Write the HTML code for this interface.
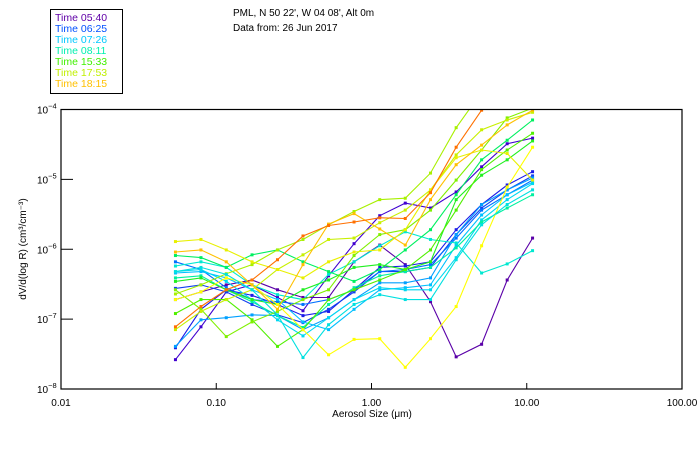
<!DOCTYPE html>
<html><head><meta charset="utf-8"><style>
html,body{margin:0;padding:0;background:#fff;}
svg{display:block;font-family:"Liberation Sans",sans-serif;}
</style></head><body>
<svg id="chart" width="700" height="450" viewBox="0 0 700 450" xmlns="http://www.w3.org/2000/svg">
<rect x="0" y="0" width="700" height="450" fill="#fff"/>
<g>
<rect x="50.5" y="9.5" width="72" height="84" fill="none" stroke="#000" stroke-width="1"/>
<g id="legendItems" font-size="10.5"></g>
</g>
<text x="233" y="16" font-size="10">PML, N 50 22', W 04 08', Alt 0m</text>
<text x="233" y="31" font-size="10">Data from: 26 Jun 2017</text>
<defs><clipPath id="plotClip"><rect x="61" y="109.5" width="621" height="279.5"/></clipPath></defs>
<g id="axes"></g>
<g id="series" clip-path="url(#plotClip)"></g>
<rect x="61" y="109.5" width="621" height="279.5" fill="none" stroke="#000" stroke-width="1.2"/>
<text x="372" y="417" font-size="10" text-anchor="middle">Aerosol Size (μm)</text>
<text transform="translate(26,249) rotate(-90)" font-size="10" text-anchor="middle">dV/d(log R) (cm³/cm⁻³)</text>
</svg>
<script>
// bin centre sizes in micrometres
const sizes = [0.0546,0.0797,0.116,0.170,0.248,0.362,0.529,0.772,1.13,1.65,2.40,3.51,5.12,7.48,10.9];
const xTicks = [0.01,0.1,1,10,100];
const xTickLabels = ["0.01","0.10","1.00","10.00","100.00"];
const yTickExps = [-4,-5,-6,-7,-8];
const legendLabels = ["Time 05:40","Time 06:25","Time 07:26","Time 08:11","Time 15:33","Time 17:53","Time 18:15"];
const legendColors = ["#6000a8","#0050ff","#00c8ff","#00f0b0","#40f000","#c0f000","#ffc000"];
// log10 of dV/d(log R) per series
const sA = [-6.72,-6.61,-6.51,-6.44,-6.58,-6.69,-6.69,-6.18,-5.94,-6.22,-6.75,-7.54,-7.36,-6.44,-5.84];
const sB = [-7.58,-7.11,-6.61,-6.51,-6.69,-6.88,-6.38,-5.92,-5.52,-5.34,-5.41,-5.18,-4.82,-4.49,-4.41];
const sC = [-7.41,-6.86,-6.58,-6.66,-6.79,-6.95,-6.89,-6.58,-6.26,-6.24,-6.18,-5.72,-5.36,-5.08,-4.89];
const sD = [-6.56,-6.51,-6.61,-6.79,-6.94,-7.05,-6.86,-6.61,-6.32,-6.32,-6.26,-5.79,-5.41,-5.15,-4.95];
const sE = [-6.18,-6.29,-6.55,-6.72,-6.75,-6.79,-6.72,-6.58,-6.32,-6.29,-6.22,-5.84,-5.44,-5.22,-5.01];
const sF = [-7.39,-7.01,-6.98,-6.94,-6.95,-7.15,-6.98,-6.72,-6.48,-6.48,-6.41,-5.79,-5.36,-5.15,-4.98];
const sG = [-6.34,-6.32,-6.41,-6.58,-6.72,-7.04,-7.15,-6.86,-6.58,-6.55,-6.51,-5.94,-5.51,-5.22,-5.04];
const sH = [-6.32,-6.29,-6.46,-6.72,-7.01,-7.24,-6.98,-6.72,-6.55,-6.58,-6.58,-6.12,-5.58,-5.29,-5.06];
const sI = [-6.24,-6.18,-6.26,-6.51,-6.65,-6.72,-6.36,-6.18,-5.95,-5.75,-5.86,-5.91,-6.34,-6.21,-6.02];
const sJ = [-6.41,-6.38,-6.58,-6.75,-6.95,-7.12,-6.79,-6.55,-6.38,-6.32,-6.26,-5.98,-5.61,-5.41,-5.22];
const sK = [-6.09,-6.12,-6.26,-6.08,-6.01,-6.18,-6.32,-6.46,-6.29,-6.01,-5.72,-5.22,-4.72,-4.44,-4.15];
const sL = [-6.46,-6.41,-6.58,-6.72,-6.79,-6.58,-6.44,-6.26,-6.22,-6.29,-6.18,-5.29,-4.94,-4.72,-4.45];
const sM = [-6.92,-6.72,-6.72,-7.01,-7.39,-7.15,-6.72,-6.58,-6.44,-6.29,-6.01,-5.44,-4.86,-4.58,-4.34];
const sN = [-6.58,-6.86,-7.25,-7.04,-6.89,-6.72,-6.58,-6.09,-5.79,-5.72,-5.44,-5.01,-4.58,-4.12,-3.98];
const sO = [-6.64,-6.51,-6.35,-6.22,-6.01,-5.86,-5.65,-5.46,-5.29,-5.27,-4.91,-4.26,-3.75,-3.59,-3.52];
const sP = [-7.15,-6.89,-6.72,-6.58,-6.29,-6.08,-5.86,-5.84,-5.62,-5.44,-5.15,-4.65,-4.29,-4.15,-4.04];
const sQ = [-5.89,-5.86,-6.01,-6.18,-6.29,-6.41,-6.18,-6.04,-6.01,-5.72,-5.15,-4.69,-4.58,-4.63,-5.01];
const sR = [-6.72,-6.61,-6.41,-6.51,-6.79,-7.15,-7.51,-7.29,-7.28,-7.69,-7.28,-6.82,-5.95,-5.11,-4.54];
const sS = [-6.04,-6.01,-6.18,-6.51,-6.86,-6.22,-5.64,-5.49,-5.71,-5.94,-5.29,-4.79,-4.51,-4.22,-4.01];
const sT = [-7.11,-6.82,-6.58,-6.44,-6.15,-5.81,-5.66,-5.61,-5.55,-5.56,-5.19,-4.54,-4.01,-3.79,-3.69];
const sU = [-6.32,-6.26,-6.36,-6.58,-6.94,-7.55,-7.08,-6.79,-6.65,-6.72,-6.72,-6.15,-5.65,-5.36,-5.15];
const seriesList = [sA,sB,sC,sD,sE,sF,sG,sH,sI,sJ,sK,sL,sM,sN,sO,sP,sQ,sR,sS,sT,sU];
const seriesColors = ["#5a00a8","#4000d0","#1a1ae8","#1040f0","#0070ff","#00a0ff","#00c0ff","#00d8f0","#00e8d0","#00f0a0","#00f060","#20f020","#50f000","#80f000","#a8f000","#c8f000","#e8f000","#ffff00","#ffc000","#ff7000","#00e0e0"];

const NS="http://www.w3.org/2000/svg";
const X0=61, X1=682, Y0=389, Y1=109.5;
function xScale(v){return X0+(Math.log10(v)+2)/4*(X1-X0);}
function yScale(e){return Y0-(e+8)/4*(Y0-Y1);}
function mk(tag,attrs,parent){const el=document.createElementNS(NS,tag);for(const k in attrs)el.setAttribute(k,attrs[k]);parent.appendChild(el);return el;}

const axes=document.getElementById('axes');
xTicks.forEach((t,i)=>{
  const x=xScale(t);
  if(i>0&&i<xTicks.length-1){
    const tk=mk('line',{x1:x,x2:x,y1:Y0,y2:Y0-6,stroke:'#000','stroke-width':1},axes);
    
    
  }
  const lb=mk('text',{x:x,y:406,'font-size':10,'text-anchor':'middle'},axes);
  lb.textContent=xTickLabels[i];
  
  
});
yTickExps.forEach((e,i)=>{
  const y=yScale(e);
  if(i>0&&i<yTickExps.length-1){
    const tk=mk('line',{x1:X0,x2:X0+12,y1:y,y2:y,stroke:'#000','stroke-width':1},axes);
    
    
  }
  const lb=mk('text',{x:37,y:y+4,'font-size':10},axes);
  lb.textContent='10';
  const sp=mk('tspan',{dy:-5,'font-size':7.5},lb);
  sp.textContent='−'+(-e);
  
  
});

const sg=document.getElementById('series');
seriesList.forEach((s,si)=>{
  const col=seriesColors[si];
  const g=mk('g',{},sg);
  
  
  const pts=s.map((e,i)=>xScale(sizes[i]).toFixed(1)+','+yScale(e).toFixed(1)).join(' ');
  const pl=mk('polyline',{points:pts,fill:'none',stroke:col,'stroke-width':1.1},g);
  
  
  s.forEach((e,i)=>{
    const r=mk('rect',{x:xScale(sizes[i])-1.5,y:yScale(e)-1.5,width:3,height:3,fill:col},g);
    
    
  });
});

const lg=document.getElementById('legendItems');
legendLabels.forEach((l,i)=>{
  const t=mk('text',{x:55,y:21+i*11,fill:legendColors[i]},lg);
  t.textContent=l;
  
  
});
</script>
</body></html>
